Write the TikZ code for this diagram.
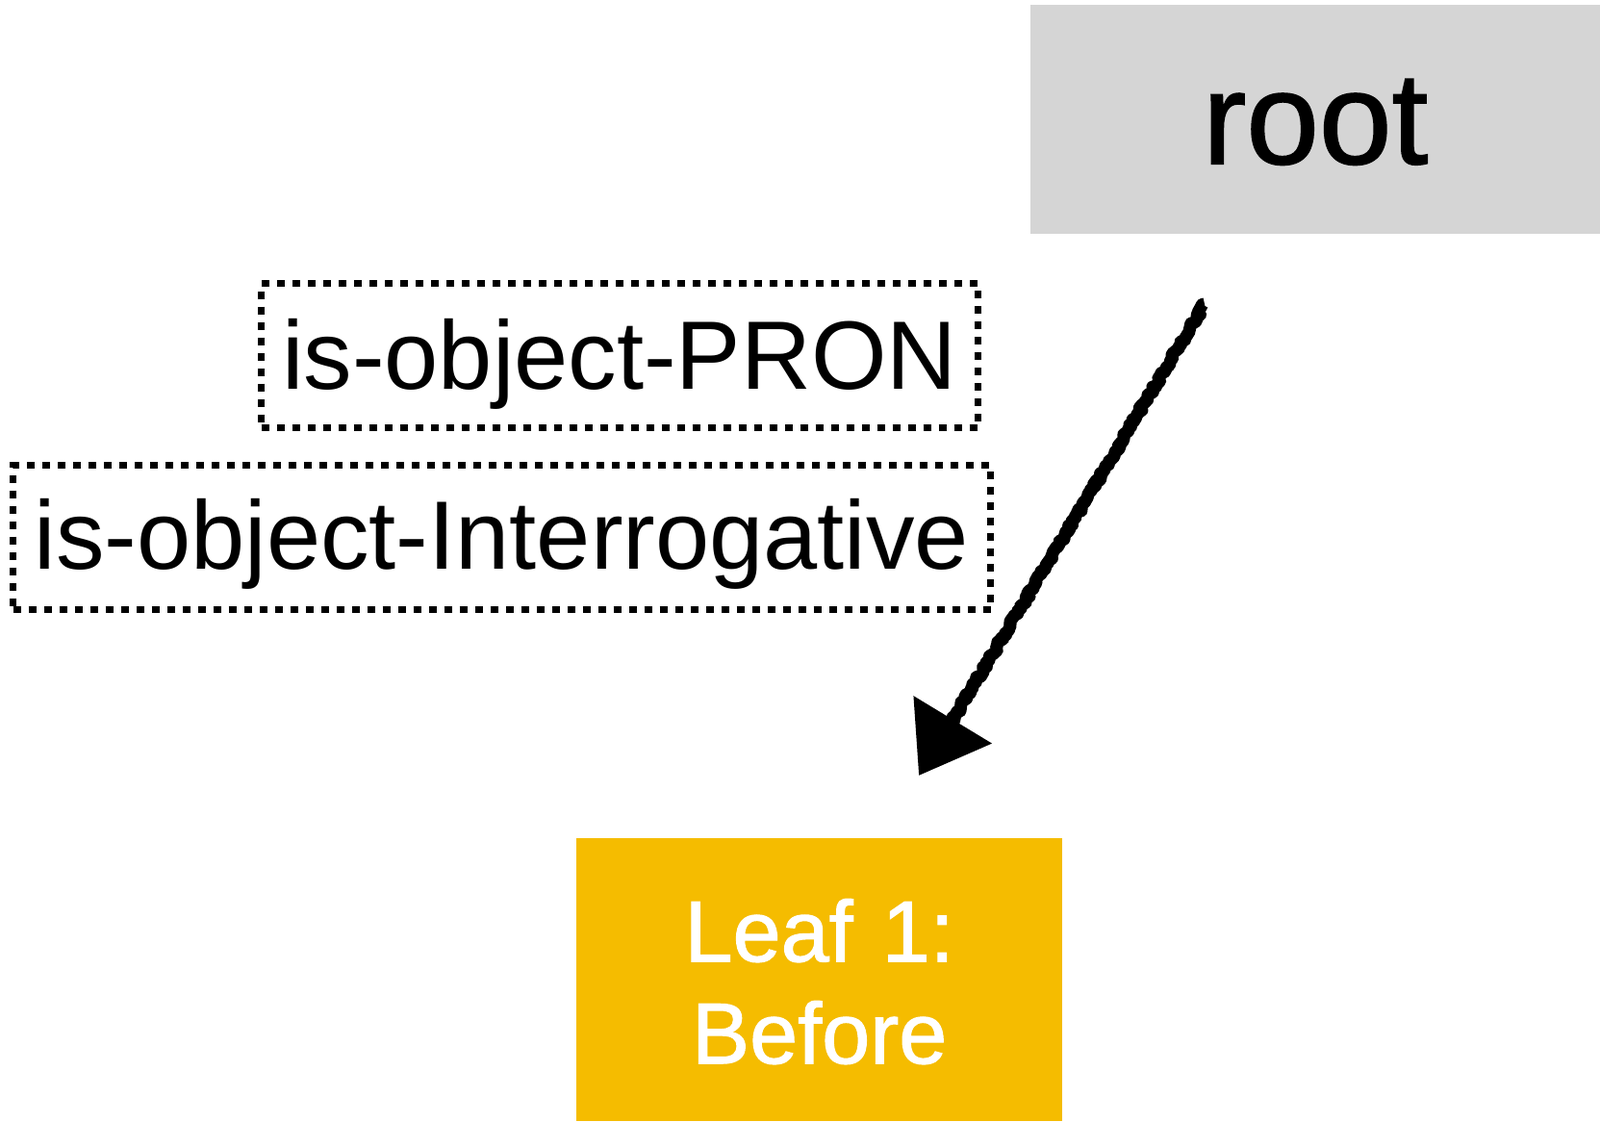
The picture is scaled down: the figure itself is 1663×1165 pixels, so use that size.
\documentclass[tikz,border=0pt]{standalone}
\usepackage{fontspec}
\setmainfont{Liberation Sans}
\newfontfamily\heavyfont[FakeBold=1.2]{Liberation Sans}
\usetikzlibrary{arrows.meta,decorations.pathmorphing}
\definecolor{rootgray}{HTML}{D5D5D5}
\definecolor{leafyellow}{HTML}{F5BC00}
\begin{document}
\begin{tikzpicture}[x=1pt,y=-1pt,
  dotbox/.style={draw=black, line width=7pt, dash pattern=on 8pt off 8pt,
    inner sep=0pt, anchor=north west, font=\fontsize{101}{118}\selectfont},
  rootbox/.style={fill=rootgray, inner sep=0pt, anchor=north west,
    font=\heavyfont\fontsize{136}{160}\selectfont},
  leafbox/.style={fill=leafyellow, text=white, inner sep=0pt, anchor=north west,
    align=center, font=\heavyfont\fontsize{90}{106}\selectfont},
  sketcharrow/.style={line width=13pt, line join=round, decorate,
    decoration={random steps, segment length=3pt, amplitude=2pt, post length=60pt},
    -{Triangle[length=68pt,width=92pt]}}]
\useasboundingbox (0,0) rectangle (1663,1165);
\node[rootbox, minimum width=592pt, text height=165pt, text depth=73pt] (root) at (1071,5) {root};
\node[dotbox, minimum width=745pt, text height=110pt, text depth=40pt] (pron) at (268,291) {is-object-PRON};
\node[dotbox, minimum width=1016pt, text height=108pt, text depth=42pt] (interr) at (10,480) {is-object-Interrogative};
\node[leafbox, text width=505pt, text height=128pt, text depth=166pt] (leaf) at (599,871) {Leaf 1:\\Before};
\coordinate (as) at (1252,316);
\coordinate (ae) at (955,806);
\draw[sketcharrow] (as) -- (ae);
\end{tikzpicture}
\end{document}
